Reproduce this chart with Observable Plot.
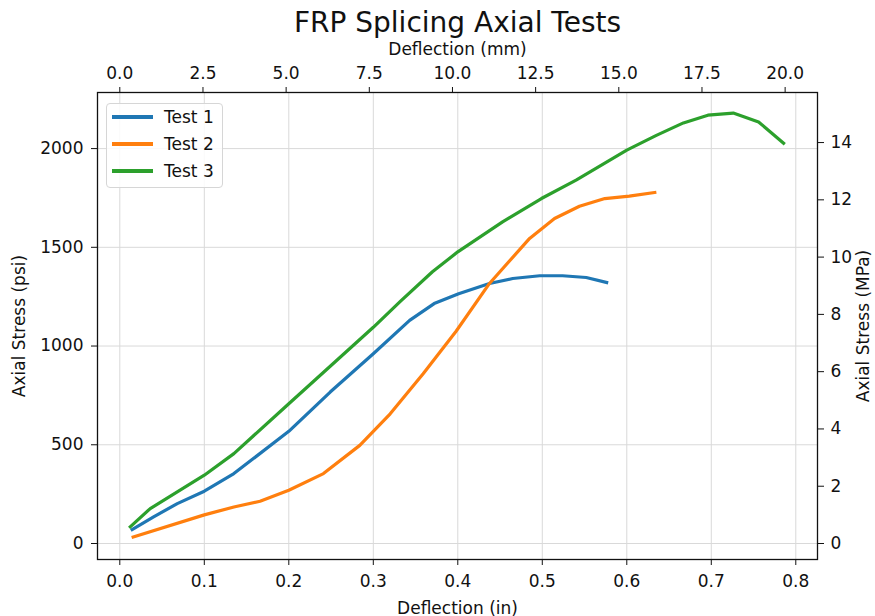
<!DOCTYPE html>
<html><head><meta charset="utf-8">
<script src="https://cdn.jsdelivr.net/npm/d3@7"></script>
<script src="https://cdn.jsdelivr.net/npm/@observablehq/plot@0.6"></script>
<style>
body{margin:0;background:#fff;font-family:"DejaVu Sans",sans-serif;}
#wrap{position:relative;width:875px;height:616px;}
#legend{position:absolute;left:106px;top:103px;width:117px;height:85px;border:1px solid #d6d6d6;border-radius:4px;background:rgba(255,255,255,0.85);box-sizing:border-box;}
.item{position:absolute;left:5px;height:20px;display:flex;align-items:center;font-size:17px;color:#111;}
.sw{width:41px;height:3.2px;margin-right:11px;}
</style></head>
<body><div id="wrap"></div>
<script>
const title = "FRP Splicing Axial Tests";
const seriesNames = ["Test 1", "Test 2", "Test 3"];
const seriesColors = ["#1f77b4", "#ff7f0e", "#2ca02c"];

const test1X = [0.013, 0.040, 0.068, 0.100, 0.135, 0.200, 0.249, 0.300, 0.343, 0.372, 0.401, 0.4375, 0.465, 0.497, 0.524, 0.552, 0.578];
const test1Y = [67, 135, 202, 265, 354, 568, 767, 961, 1130, 1215, 1265, 1317, 1342, 1356, 1356, 1347, 1320];

const test2X = [0.014, 0.100, 0.135, 0.166, 0.200, 0.241, 0.284, 0.320, 0.359, 0.398, 0.4375, 0.485, 0.5145, 0.544, 0.574, 0.603, 0.635];
const test2Y = [30, 145, 185, 214, 270, 354, 497, 657, 860, 1075, 1317, 1545, 1646, 1708, 1747, 1759, 1779];

const test3X = [0.011, 0.036, 0.100, 0.135, 0.200, 0.300, 0.332, 0.370, 0.400, 0.453, 0.499, 0.540, 0.600, 0.635, 0.667, 0.696, 0.726, 0.756, 0.787];
const test3Y = [79, 177, 346, 455, 708, 1095, 1226, 1376, 1477, 1629, 1747, 1840, 1992, 2067, 2130, 2169, 2180, 2135, 2022];

const inTicks = [0, 0.1, 0.2, 0.3, 0.4, 0.5, 0.6, 0.7, 0.8];
const mmTicks = [0, 2.5, 5, 7.5, 10, 12.5, 15, 17.5, 20];
const psiTicks = [0, 500, 1000, 1500, 2000];
const mpaTicks = [0, 2, 4, 6, 8, 10, 12, 14];
const MM_PER_IN = 25.4;
const PSI_PER_MPA = 145.038;

const toRows = (xs, ys, s) => xs.map((x, i) => ({x, y: ys[i], s}));
const rows = [
  ...toRows(test1X, test1Y, seriesNames[0]),
  ...toRows(test2X, test2Y, seriesNames[1]),
  ...toRows(test3X, test3Y, seriesNames[2])
];

const font = {fontSize: 17, fontFamily: "DejaVu Sans"};
const chart = Plot.plot({
  width: 875, height: 616,
  marginLeft: 97, marginRight: 58, marginTop: 92, marginBottom: 57,
  style: {fontFamily: "DejaVu Sans", color: "#111", background: "#fff"},
  x: {domain: [-0.0264, 0.8257]},
  y: {domain: [-81, 2284]},
  color: {domain: seriesNames, range: seriesColors},
  marks: [
    Plot.gridX(inTicks, {stroke: "#d9d9d9", strokeOpacity: 1, strokeWidth: 1}),
    Plot.gridY(psiTicks, {stroke: "#d9d9d9", strokeOpacity: 1, strokeWidth: 1}),
    Plot.line(rows, {x: "x", y: "y", z: "s", stroke: "s", strokeWidth: 3.2, strokeLinejoin: "round", strokeLinecap: "butt"}),
    Plot.frame({stroke: "#111", strokeWidth: 1.3}),
    Plot.axisX(inTicks, {anchor: "bottom", tickFormat: d => d.toFixed(1), tickSize: 6, tickPadding: 9, ...font,
      label: "Deflection (in)", labelAnchor: "center", labelArrow: "none", labelOffset: 54}),
    Plot.axisX(mmTicks.map(m => m / MM_PER_IN), {anchor: "top", tickFormat: d => (d * MM_PER_IN).toFixed(1), tickSize: 6, tickPadding: 8, ...font,
      label: "Deflection (mm)", labelAnchor: "center", labelArrow: "none", labelOffset: 50}),
    Plot.axisY(psiTicks, {anchor: "left", tickSize: 6, tickPadding: 8, tickFormat: d => String(d), ...font,
      label: "Axial Stress (psi)", labelAnchor: "center", labelArrow: "none", labelOffset: 85}),
    Plot.axisY(mpaTicks.map(m => m * PSI_PER_MPA), {anchor: "right", tickFormat: d => String(Math.round(d / PSI_PER_MPA)), tickSize: 6, tickPadding: 7, ...font,
      label: "Axial Stress (MPa)", labelAnchor: "center", labelArrow: "none", labelOffset: 51}),
    Plot.text([title], {frameAnchor: "top", dy: -61, lineAnchor: "bottom", fontSize: 28, fontFamily: "DejaVu Sans", fill: "#111"})
  ]
});
const wrap = document.getElementById("wrap");
wrap.appendChild(chart);

const legend = document.createElement("div");
legend.id = "legend";
seriesNames.forEach((n, i) => {
  const it = document.createElement("div");
  it.className = "item";
  it.style.top = (3 + i * 27) + "px";
  const sw = document.createElement("div");
  sw.className = "sw";
  sw.style.background = seriesColors[i];
  it.appendChild(sw);
  it.appendChild(document.createTextNode(n));
  legend.appendChild(it);
});
wrap.appendChild(legend);
</script></body></html>
